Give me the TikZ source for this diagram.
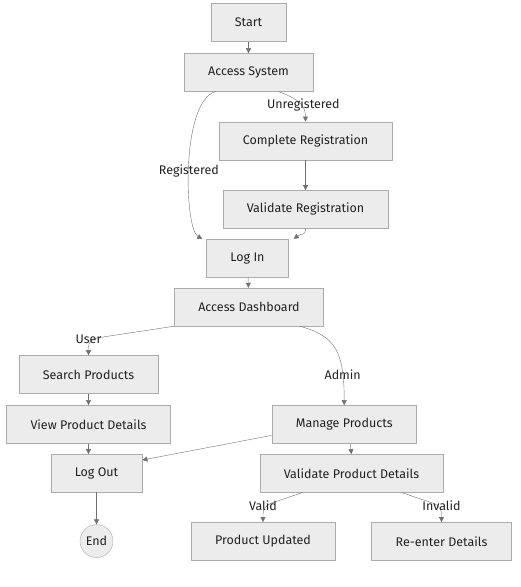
\documentclass[tikz,border=0pt]{standalone}
\usepackage{fontspec}
\setmainfont{Fira Sans}
\usetikzlibrary{positioning,shapes,arrows.meta}

\definecolor{boxfill}{HTML}{ECECEC}
\definecolor{boxline}{HTML}{ABABAB}
\definecolor{edgeline}{HTML}{707070}
\definecolor{txt}{HTML}{222222}

\begin{document}
\begin{tikzpicture}[
  step box/.style={rectangle, draw=boxline, fill=boxfill, thin,
                   text centered, inner xsep=24pt, minimum height=38pt,
                   text=txt},
  endpoint/.style={circle, draw=boxline, fill=boxfill, thin,
                   minimum size=33pt, inner sep=0pt, text=txt},
  flow/.style={draw=edgeline, -{Triangle[length=5pt,width=5pt]}, thin},
  cond/.style={inner sep=1pt, text=txt},
  every node/.style={font=\fontsize{12.5}{14}\selectfont}
]
\useasboundingbox (0,0) rectangle (520pt,-587pt);

% ==========================================================
% Steps
% ==========================================================
\node[step box] (Start) at (248.5pt,-22.5pt) {Start};
\node[step box, below=11.5pt of Start] (AccSys) {Access System};
\node[step box, below=30pt of AccSys, xshift=57pt] (CompReg) {Complete Registration};
\node[step box, below=30pt of CompReg] (ValReg) {Validate Registration};
\node[step box, below=10.5pt of ValReg, xshift=-58pt] (LogIn) {Log In};
\node[step box, below=10.5pt of LogIn, xshift=1.5pt] (AccDash) {Access Dashboard};
\node[step box, below=29pt of AccDash, xshift=-160.5pt] (Search) {Search Products};
\node[step box, below=11.5pt of Search] (ViewProd) {View Product Details};
\node[step box, below=79pt of AccDash, xshift=95.2pt] (Manage) {Manage Products};
\node[step box, below=10.5pt of ViewProd, xshift=8pt] (LogOut) {Log Out};
\node[step box, below=10.5pt of Manage, xshift=7.3pt] (ValProd) {Validate Product Details};
\node[endpoint, below=32pt of LogOut] (End) {End};
\node[step box, below=29.5pt of ValProd, xshift=-88.5pt] (ProdUpd) {Product Updated};
\node[step box, below=29.5pt of ValProd, xshift=90pt] (ReEnter) {Re-enter Details};

% ==========================================================
% Flow
% ==========================================================
\draw[flow] (Start) -- (AccSys);
\draw[flow] ([xshift=30pt]AccSys.south) .. controls +(22pt,-8pt) and +(0pt,15pt) .. node[cond, pos=0.55, xshift=2pt]{Unregistered} (CompReg.north);
\draw[flow] ([xshift=-33pt]AccSys.south) .. controls +(-35pt,-10pt) and +(-18pt,10pt) .. node[cond, pos=0.53]{Registered} ([xshift=-4pt]LogIn.north west);
\draw[flow] (CompReg) -- (ValReg);
\draw[flow] (ValReg.south) .. controls +(0pt,-8pt) and +(8pt,6pt) .. ([xshift=5pt]LogIn.north east);
\draw[flow] (LogIn) -- (AccDash);
\draw[flow, rounded corners=8pt] (AccDash.south west) -- ([yshift=16pt]Search.north) node[cond]{User} -- (Search.north);
\draw[flow] ([xshift=51pt]AccDash.south) .. controls +(35pt,-10pt) and +(0pt,55pt) .. node[cond, pos=0.78]{Admin} (Manage.north);
\draw[flow] (Search) -- (ViewProd);
\draw[flow] (ViewProd.south) -- (ViewProd.south |- LogOut.north);
\draw[flow] ([yshift=-11pt]Manage.west) -- ([yshift=-6pt]LogOut.north east);
\draw[flow] ([xshift=6pt]Manage.south) -- (ValProd.north);
\draw[flow] (LogOut) -- (End);
\draw[flow, rounded corners=8pt] ([xshift=-49pt]ValProd.south) -- ([yshift=16pt]ProdUpd.north) node[cond]{Valid} -- (ProdUpd.north);
\draw[flow, rounded corners=8pt] ([xshift=50pt]ValProd.south) -- ([yshift=16pt]ReEnter.north) node[cond]{Invalid} -- (ReEnter.north);

\end{tikzpicture}
\end{document}
